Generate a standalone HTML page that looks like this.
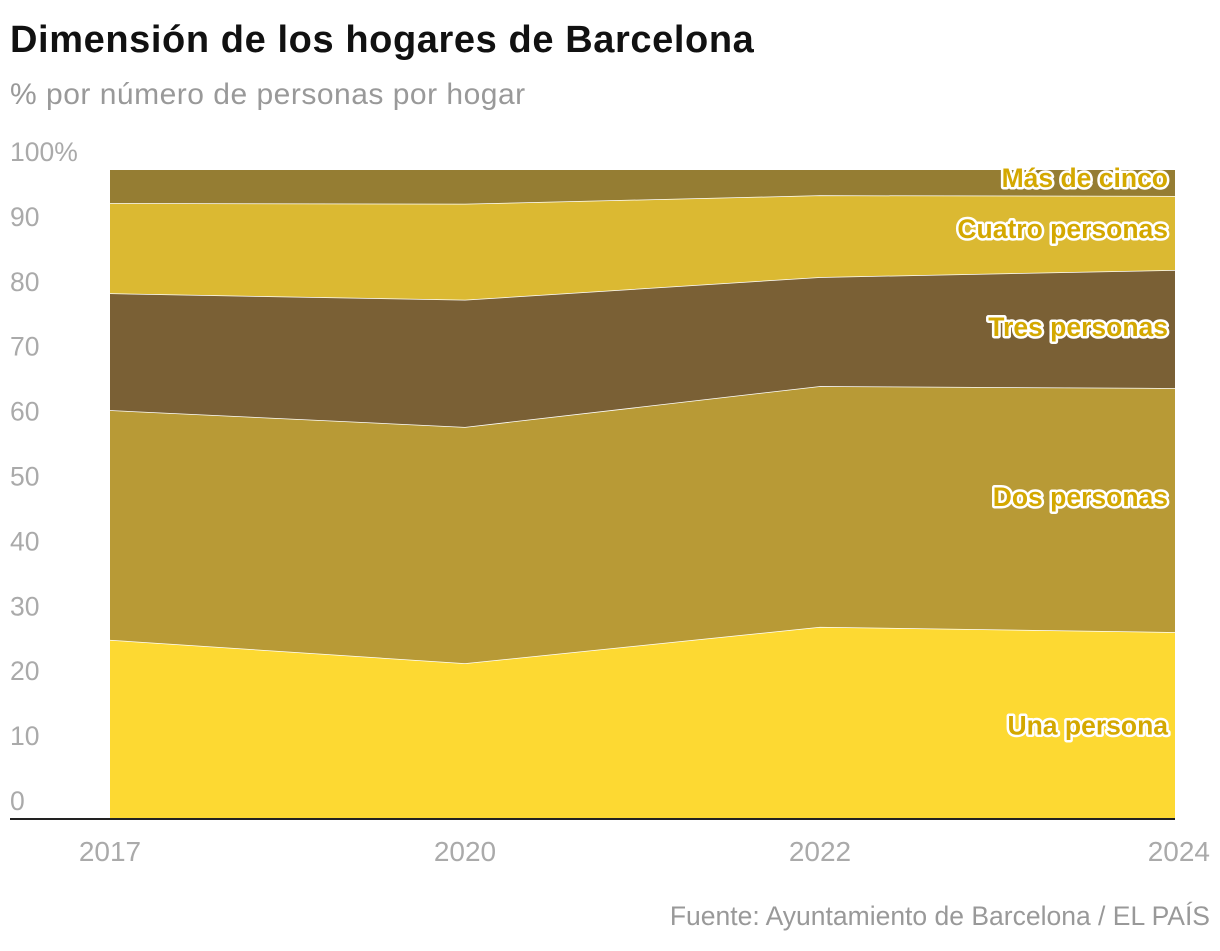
<!DOCTYPE html>
<html><head><meta charset="utf-8"><style>
body{margin:0;background:#fff;width:1220px;height:946px;overflow:hidden;font-family:"Liberation Sans",sans-serif}
</style></head><body>
<svg width="1220" height="946">
<text x="10" y="52" font-size="38" font-weight="bold" fill="#111" letter-spacing="0.6">Dimensión de los hogares de Barcelona</text>
<text x="10" y="104" font-size="30" fill="#999" letter-spacing="0.5">% por número de personas por hogar</text>
<g id="yt"></g><g id="areas"></g><g id="xt"></g><g id="labels"></g>
<line x1="10" x2="1175" y1="819" y2="819" stroke="#222" stroke-width="2"/>
<text x="1210" y="925" font-size="26.5" fill="#999" text-anchor="end">Fuente: Ayuntamiento de Barcelona / EL PAÍS</text>
</svg>
<script>
const years=["2017","2020","2022","2024"];
const una=[27.6,24.0,29.6,28.8];
const dos=[35.4,36.4,37.1,37.6];
const tres=[18.0,19.6,16.8,18.2];
const cuatro=[13.9,14.8,12.6,11.4];
const mas=[5.1,5.2,3.9,4.0];
const yTicks=[0,10,20,30,40,50,60,70,80,90,100];
const seriesNames=["Una persona","Dos personas","Tres personas","Cuatro personas","Más de cinco"];
const labelShift=[0,-13,-2,-4,-5];
const colors=["#FDD932","#B89A36","#7A6035","#DBB932","#957D33"];
const NS="http://www.w3.org/2000/svg";
const y=v=>819-6.49*v, x=i=>110+i*(1065/(years.length-1));
function mk(t,a,p){const e=document.createElementNS(NS,t);for(const k in a)e.setAttribute(k,a[k]);p.appendChild(e);return e;}
const series=[una,dos,tres,cuatro,mas];
let base=years.map(()=>0);
const ag=document.getElementById('areas'),lg=document.getElementById('labels');
series.forEach((s,si)=>{
 const top=base.map((b,i)=>b+s[i]);
 let d=top.map((v,i)=>(i?'L':'M')+x(i)+','+y(v)).join('');
 for(let i=years.length-1;i>=0;i--)d+='L'+x(i)+','+y(base[i]);
 const p=mk('path',{d:d+'Z',fill:colors[si]},ag);
 
 
 if(si<series.length-1){const l=mk('polyline',{points:top.map((v,i)=>x(i)+','+y(v)).join(' '),fill:'none',stroke:'#fff','stroke-width':1.5},ag);
 
 }
 const n=years.length-1;const mid=(base[n]+top[n])/2;
 const t=mk('text',{x:1168,y:y(mid)+9+labelShift[si],'font-size':26.5,'font-weight':'bold','text-anchor':'end',fill:'#D4A800',stroke:'#fff','stroke-width':5,'paint-order':'stroke','stroke-linejoin':'round'},lg);
 t.textContent=seriesNames[si];
 
 
 base=top;
});
const yt=document.getElementById('yt');
yTicks.forEach(v=>{const t=mk('text',{x:10,y:y(v)-9,'font-size':26.5,fill:'#aaa'},yt);t.textContent=v===100?'100%':v;
 
 });
const xt=document.getElementById('xt');
years.forEach((yr,i)=>{const last=i===years.length-1;const t=mk('text',{x:last?1210:x(i),y:861,'font-size':28,fill:'#aaa','text-anchor':last?'end':'middle'},xt);t.textContent=yr;
 
 });
</script>
</body></html>
